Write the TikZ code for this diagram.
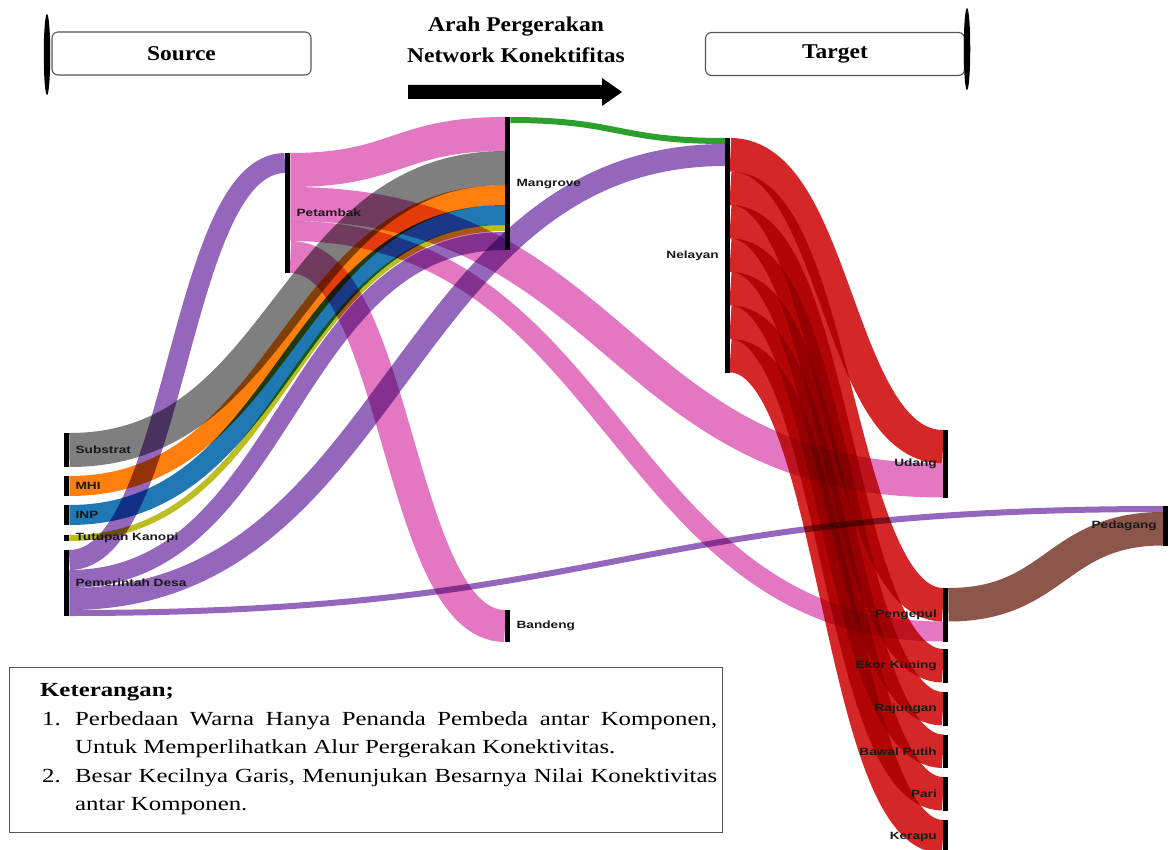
\documentclass[tikz,border=0pt]{standalone}
\usepackage{fontspec}
\setmainfont{Liberation Serif}
\newfontfamily\lblfont[FakeStretch=1.3]{Liberation Sans}
\newfontfamily\legfont[FakeStretch=1.24]{Liberation Serif}
\newfontfamily\hdrfont[FakeStretch=1.12]{Liberation Serif}
\usetikzlibrary{calc,shapes.geometric}
\definecolor{cpurple}{HTML}{9467BD}
\definecolor{cpink}{HTML}{E377C2}
\definecolor{cgray}{HTML}{7F7F7F}
\definecolor{corange}{HTML}{FF7F0E}
\definecolor{cblue}{HTML}{1F77B4}
\definecolor{colive}{HTML}{BCBD22}
\definecolor{cgreen}{HTML}{2CA02C}
\definecolor{cred}{HTML}{D62728}
\definecolor{cbrown}{HTML}{8C564B}
\definecolor{boxline}{HTML}{555555}
% flow: colour, width, source node, centre offset at source, target node, centre offset at target
\newcommand\flow[6]{%
  \draw[#1, line width=#2pt] let \p1=($(#3.north east)+(0,#4)$), \p2=($(#5.north west)+(0,#6)$) in
    (\p1) .. controls ({(\x1+\x2)/2},\y1) and ({(\x1+\x2)/2},\y2) .. (\p2);}
\begin{document}
\begin{tikzpicture}[x=1pt,y=-1pt,
  bar/.style={rectangle, fill=black, inner sep=0pt, minimum width=5pt, anchor=north west},
  lbl/.style={font={\lblfont\bfseries\fontsize{10.5}{12}\selectfont}, text=black!90, inner sep=0pt},
  lblL/.style={lbl, anchor=east},
  lblR/.style={lbl, anchor=west},
  hdrbox/.style={draw=boxline, line width=1.1pt, rounded corners=6pt, fill=white, minimum height=43pt, inner sep=0pt, font={\hdrfont\bfseries\fontsize{21}{24}\selectfont}},
  endcap/.style={ellipse, fill=black, inner sep=0pt, minimum width=6.5pt},
  legtxt/.style={font={\legfont\fontsize{20}{24}\selectfont}, inner sep=0pt, anchor=base west},
  ttl/.style={font={\hdrfont\bfseries\fontsize{21}{24}\selectfont}, inner sep=0pt}]
\useasboundingbox (0,0) rectangle (1172,850);
\fill[white] (0,0) rectangle (1172,850);

% ---------- header ----------
\node[hdrbox, minimum width=259pt] (srcbox) at (181.5,53.5) {Source};
\node[endcap, minimum height=81pt] (srccap) at (47,54.5) {};
\node[hdrbox, minimum width=259pt] (tgtbox) at (835,54) {Target};
\node[endcap, minimum height=82pt] (tgtcap) at (967,49) {};
\node[ttl] (t1) at (516,27) {Arah Pergerakan};
\node[ttl] (t2) at (516,55) {Network Konektifitas};
\fill[black] (408,85) -- (602,85) -- (602,78) -- (622,92) -- (602,106) -- (602,99) -- (408,99) -- cycle;

% ---------- bars ----------
\node[bar, minimum height=34pt] (sub) at (64,433) {};
\node[bar, minimum height=20pt] (mhi) at (64,476) {};
\node[bar, minimum height=20pt] (inp) at (64,505) {};
\node[bar, minimum height=6pt] (tk) at (64,535) {};
\node[bar, minimum height=66pt] (pd) at (64,550) {};
\node[bar, minimum height=120pt] (pet) at (285,153) {};
\node[bar, minimum height=133pt] (man) at (505,117) {};
\node[bar, minimum height=32pt] (ban) at (505,610) {};
\node[bar, minimum height=235pt] (nel) at (725,138) {};
\node[bar, minimum height=67.5pt] (uda) at (943,430) {};
\node[bar, minimum height=53.5pt] (pen) at (943,588) {};
\node[bar, minimum height=33.5pt] (eko) at (943,649) {};
\node[bar, minimum height=33.5pt] (raj) at (943,692) {};
\node[bar, minimum height=33.5pt] (baw) at (943,734.5) {};
\node[bar, minimum height=33.5pt] (par) at (943,777) {};
\node[bar, minimum height=33.5pt] (ker) at (943,820) {};
\node[bar, minimum height=39.5pt] (ped) at (1163,506) {};

% ---------- flows ----------
\begin{scope}[blend mode=multiply]
\flow{cpurple}{20}{pd}{10}{pet}{10}
\flow{cpurple}{18}{pd}{29}{man}{124}
\flow{cpurple}{22}{pd}{49}{nel}{17}
\flow{cpurple}{6}{pd}{63}{ped}{3}
\flow{cgray}{34}{sub}{17}{man}{51}
\flow{corange}{20}{mhi}{10}{man}{78}
\flow{cblue}{20}{inp}{10}{man}{98}
\flow{colive}{6}{tk}{3}{man}{111}
\flow{cpink}{34}{pet}{17}{man}{17}
\flow{cpink}{34}{pet}{51}{uda}{50.5}
\flow{cpink}{20}{pet}{78}{pen}{43.5}
\flow{cpink}{32}{pet}{104}{ban}{16}
\flow{cgreen}{6}{man}{3}{nel}{3}
\flow{cred}{33.5}{nel}{16.75}{uda}{16.75}
\flow{cred}{33.5}{nel}{50.25}{pen}{16.75}
\flow{cred}{33.5}{nel}{83.75}{eko}{16.75}
\flow{cred}{33.5}{nel}{117.25}{raj}{16.75}
\flow{cred}{33.5}{nel}{150.75}{baw}{16.75}
\flow{cred}{33.5}{nel}{184.25}{par}{16.75}
\flow{cred}{33.5}{nel}{217.75}{ker}{16.75}
\flow{cbrown}{33.5}{pen}{16.75}{ped}{22.75}
\end{scope}

% redraw bars on top
\foreach \b in {sub,mhi,inp,tk,pd,pet,man,ban,nel,uda,pen,eko,raj,baw,par,ker,ped}
  \fill[black] (\b.north west) rectangle (\b.south east);

% ---------- labels ----------
\node[lblR] (sub-l) at ($(sub.east)+(6,0)$) {Substrat};
\node[lblR] (mhi-l) at ($(mhi.east)+(6,0)$) {MHI};
\node[lblR] (inp-l) at ($(inp.east)+(6,0)$) {INP};
\node[lblR] (tk-l) at ($(tk.east)+(6,0)$) {Tutupan Kanopi};
\node[lblR] (pd-l) at ($(pd.east)+(6,0)$) {Pemerintah Desa};
\node[lblR] (pet-l) at ($(pet.east)+(6,0)$) {Petambak};
\node[lblR] (man-l) at ($(man.east)+(6,0)$) {Mangrove};
\node[lblR] (ban-l) at ($(ban.east)+(6,0)$) {Bandeng};
\node[lblL] (nel-l) at ($(nel.west)+(-6,0)$) {Nelayan};
\node[lblL] (uda-l) at ($(uda.west)+(-6,0)$) {Udang};
\node[lblL] (pen-l) at ($(pen.west)+(-6,0)$) {Pengepul};
\node[lblL] (eko-l) at ($(eko.west)+(-6,0)$) {Ekor Kuning};
\node[lblL] (raj-l) at ($(raj.west)+(-6,0)$) {Rajungan};
\node[lblL] (baw-l) at ($(baw.west)+(-6,0)$) {Bawal Putih};
\node[lblL] (par-l) at ($(par.west)+(-6,0)$) {Pari};
\node[lblL] (ker-l) at ($(ker.west)+(-6,0)$) {Kerapu};
\node[lblL] (ped-l) at ($(ped.west)+(-6,0)$) {Pedagang};

% ---------- legend ----------
\node[draw=boxline, line width=1.1pt, fill=white, minimum width=713pt, minimum height=165pt, inner sep=0pt] (leg) at (366,750) {};
\node[legtxt] (k0) at (40,696) {\bfseries Keterangan;};
\node[legtxt] (n1) at (42,725) {1.};
\node[legtxt] (k1) at (75,725) {\hbox to 642pt{Perbedaan Warna Hanya Penanda Pembeda antar Komponen,}};
\node[legtxt] (k2) at (75,753) {Untuk Memperlihatkan Alur Pergerakan Konektivitas.};
\node[legtxt] (n2) at (42,782) {2.};
\node[legtxt] (k3) at (75,782) {\hbox to 642pt{Besar Kecilnya Garis, Menunjukan Besarnya Nilai Konektivitas}};
\node[legtxt] (k4) at (75,810) {antar Komponen.};
\end{tikzpicture}
\end{document}
